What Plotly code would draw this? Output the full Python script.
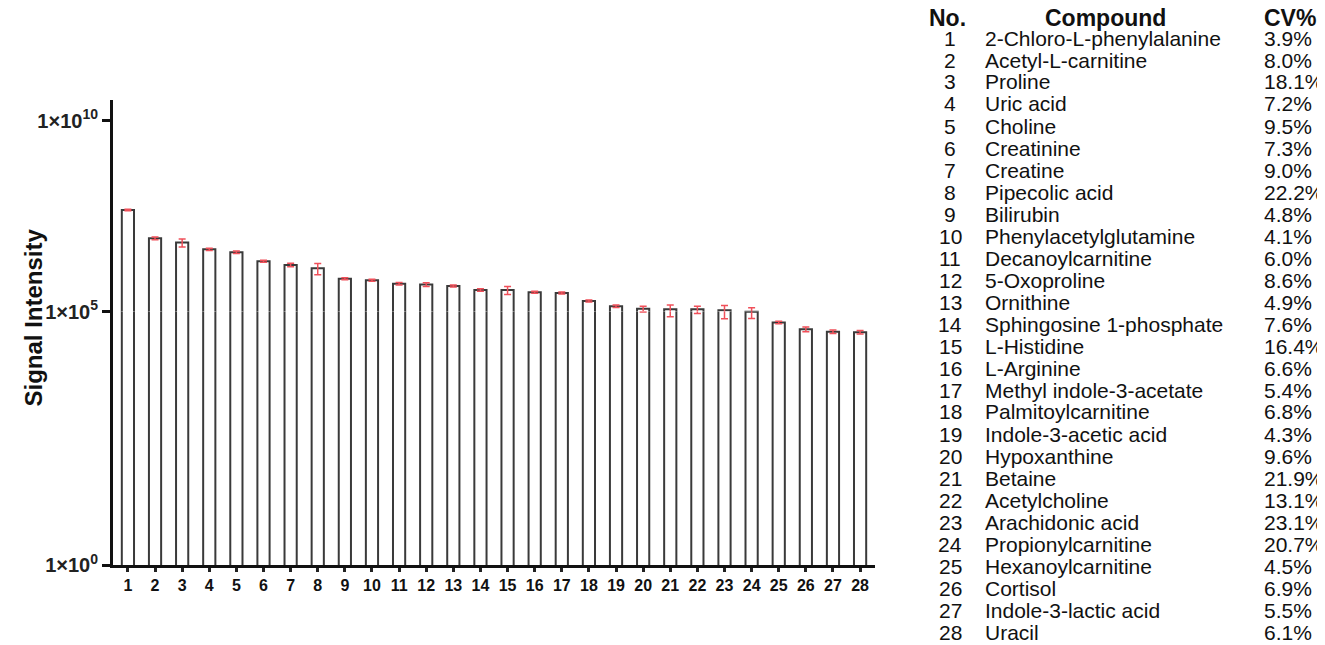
import plotly.graph_objects as go

# ---- data ----
compound_no = list(range(1, 29))
compounds = [
    "2-Chloro-L-phenylalanine", "Acetyl-L-carnitine", "Proline", "Uric acid",
    "Choline", "Creatinine", "Creatine", "Pipecolic acid", "Bilirubin",
    "Phenylacetylglutamine", "Decanoylcarnitine", "5-Oxoproline", "Ornithine",
    "Sphingosine 1-phosphate", "L-Histidine", "L-Arginine",
    "Methyl indole-3-acetate", "Palmitoylcarnitine", "Indole-3-acetic acid",
    "Hypoxanthine", "Betaine", "Acetylcholine", "Arachidonic acid",
    "Propionylcarnitine", "Hexanoylcarnitine", "Cortisol",
    "Indole-3-lactic acid", "Uracil",
]
cv_percent = [
    "3.9%", "8.0%", "18.1%", "7.2%", "9.5%", "7.3%", "9.0%", "22.2%", "4.8%",
    "4.1%", "6.0%", "8.6%", "4.9%", "7.6%", "16.4%", "6.6%", "5.4%", "6.8%",
    "4.3%", "9.6%", "21.9%", "13.1%", "23.1%", "20.7%", "4.5%", "6.9%",
    "5.5%", "6.1%",
]
intensity = [
    4.57e7, 8.28e6, 6.43e6, 4.27e6, 3.58e6, 2.07e6, 1.66e6, 1.36e6, 7.2e5,
    6.61e5, 5.35e5, 5.1e5, 4.66e5, 3.66e5, 3.66e5, 3.2e5, 3.05e5, 1.88e5,
    1.38e5, 1.18e5, 1.14e5, 1.14e5, 1.08e5, 0.99e5, 6.07e4, 4.46e4,
    4.0e4, 3.89e4,
]
intensity_sd = [
    2.3e6, 6.6e5, 1.54e6, 3.0e5, 2.9e5, 1.2e5, 1.8e5, 4.4e5, 4.3e4,
    4.0e4, 4.3e4, 5.6e4, 2.8e4, 2.9e4, 8.8e4, 1.9e4, 1.8e4, 1.1e4,
    1.1e4, 2.0e4, 3.5e4, 2.3e4, 3.6e4, 2.6e4, 3.6e3, 4.9e3, 3.2e3, 3.1e3,
]
y_tick_vals = [1, 1e5, 1e10]
y_tick_text = ["1×10<sup>0</sup>", "1×10<sup>5</sup>", "1×10<sup>10</sup>"]

# ---- geometry (reference pixels; page body adds an 8px margin) ----
OFF = 8
W, H = 1325 - OFF, 645 - OFF
L, R, T, B = 113 - OFF, 875 - OFF, 100 - OFF, 565 - OFF
SPLIT = 311.5 - OFF                 # pixel row of 1e5 (two-segment log axis)
split_frac = (B - SPLIT) / (B - T)
top_range = 5 + (SPLIT - T) / 38.16


def px(x):
    return (x - OFF - L) / (R - L)


def py(y):
    return (B - (y - OFF)) / (B - T)


fig = go.Figure()
for yax in ("y", "y2"):
    fig.add_trace(
        go.Bar(
            x=compound_no,
            y=intensity,
            yaxis=yax,
            width=0.45,
            marker=dict(color="white", line=dict(color="#3a3a3a", width=2)),
            error_y=dict(type="data", array=intensity_sd, color="#f0505a",
                         thickness=1.5, width=3.5),
            showlegend=False,
            hovertemplate="%{x}: %{y:.3s}<extra></extra>",
        )
    )

FAM = "Liberation Sans, Arial"
axis_font = dict(family=FAM, size=20, color="#222", weight="bold")
common_y = dict(
    type="log", showline=True, linecolor="#111", linewidth=3, ticks="outside",
    ticklen=8, tickwidth=3, tickcolor="#111", showgrid=False, zeroline=False,
    tickfont=axis_font, anchor="x",
)

fig.update_layout(
    width=W, height=H,
    margin=dict(l=L, r=W - R, t=T, b=H - B),
    paper_bgcolor="white", plot_bgcolor="white",
    bargap=0.5,
    xaxis=dict(
        range=[0.45, 28.55], tickvals=compound_no, ticks="outside", ticklen=4,
        tickwidth=2.5, tickcolor="#222", showline=True, linecolor="#111",
        linewidth=3, showgrid=False, zeroline=False, anchor="y",
        tickfont=dict(family=FAM, size=16, color="#111", weight="bold"),
    ),
    yaxis=dict(common_y, domain=[0, split_frac], range=[0, 5],
               tickvals=y_tick_vals[:2], ticktext=y_tick_text[:2]),
    yaxis2=dict(common_y, domain=[split_frac, 1], range=[5, top_range],
                tickvals=y_tick_vals[2:], ticktext=y_tick_text[2:]),
)

fig.add_annotation(
    text="Signal Intensity", textangle=-90, x=px(17), y=py(318),
    xref="paper", yref="paper", showarrow=False,
    font=dict(family=FAM, size=24, color="#111", weight="bold"),
)

# ---- compound table ----
head_font = dict(family=FAM, size=23, color="#111", weight="bold")
row_font = dict(family=FAM, size=21, color="#111")
for text, x, anchor in (("No.", 947, "center"), ("Compound", 1105, "center"), ("CV%", 1262, "left")):
    fig.add_annotation(text=text, x=px(x), y=py(18), xref="paper", yref="paper",
                       xanchor=anchor, yanchor="middle", showarrow=False, font=head_font)
for i, (no, name, cv) in enumerate(zip(compound_no, compounds, cv_percent)):
    y = py(38 + 22 * i)
    for text, x, anchor in ((str(no), 950, "center"), (name, 983, "left"), (cv, 1262, "left")):
        fig.add_annotation(text=text, x=px(x), y=y, xref="paper", yref="paper",
                           xanchor=anchor, yanchor="middle", showarrow=False, font=row_font)

fig.write_html("out.html")
